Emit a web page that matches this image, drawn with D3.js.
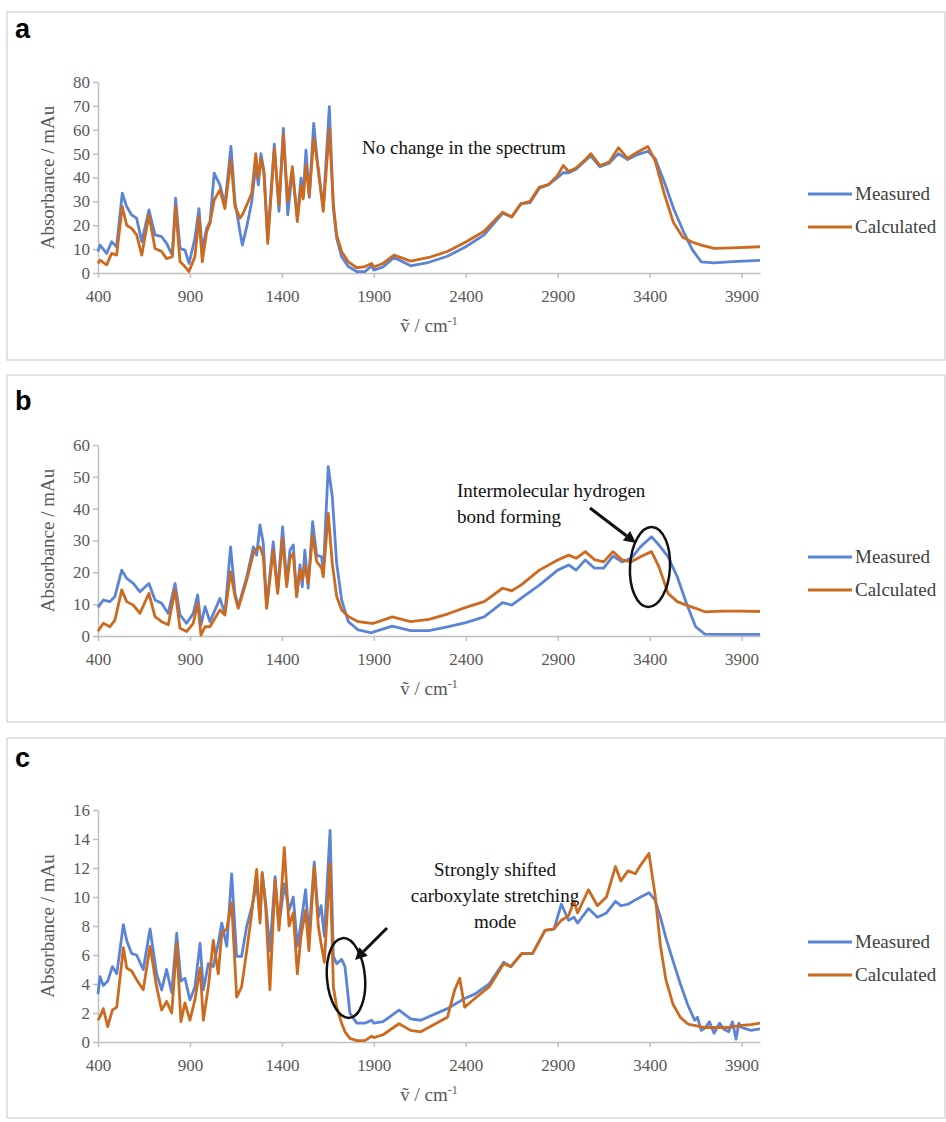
<!DOCTYPE html>
<html>
<head>
<meta charset="utf-8">
<script src="https://cdn.jsdelivr.net/npm/d3@7"></script>
<style>
  body { margin: 0; background: #fff; }
  svg { display: block; }
</style>
</head>
<body>
<div id="chart"></div>
<script>
"use strict";

// wavenumber ticks shared by all three panels
const wnTicks = [400, 900, 1400, 1900, 2400, 2900, 3400, 3900];
const seriesNames = ["Measured", "Calculated"];

// panel a
const aWn = [400, 411, 447, 474, 501, 532, 556, 583, 610, 638, 677, 710, 746, 773, 804, 822, 846, 873, 895, 927,
  949, 967, 991, 1009, 1032, 1063, 1090, 1123, 1145, 1172, 1185, 1209, 1236, 1258, 1272, 1286, 1303, 1323, 1359, 1384,
  1408, 1432, 1457, 1484, 1504, 1516, 1531, 1549, 1573, 1598, 1625, 1658, 1680, 1698, 1725, 1761, 1807, 1853, 1888, 1900,
  1950, 2010, 2100, 2200, 2300, 2400, 2500, 2600, 2650, 2700, 2750, 2800, 2850, 2900, 2930, 2960, 3000, 3050, 3080, 3130,
  3180, 3230, 3280, 3330, 3390, 3430, 3480, 3530, 3580, 3630, 3680, 3750, 3850, 4000];
const aMeasured = [9, 11.7, 8.2, 13.1, 11, 33.4, 27.8, 24.3, 23, 13.1, 26.4, 16, 15.2, 12.4, 7.5, 31.3, 10.3, 9.6, 4, 14.5,
  27, 9.6, 18.7, 21.5, 41.8, 36.9, 28.5, 53, 29.9, 17.3, 11.7, 19.4, 29.9, 45.2, 36.9, 50, 42.5, 14.5, 54, 25.8,
  60.6, 24.4, 43.1, 23, 39.7, 32.3, 51.5, 31.7, 62.7, 42.5, 27, 69.7, 27, 14.5, 6.8, 2.7, 0.6, 0.6, 3, 1.2,
  2.5, 6.5, 3, 4.5, 7, 11, 16, 25, 23.5, 29, 29.5, 35.5, 37, 40, 42, 42, 43.5, 47, 49, 44.5,
  46, 50, 47.5, 49.5, 51, 48, 38, 27, 18, 10, 4.7, 4.2, 4.8, 5.3];
const aCalculated = [4, 5.4, 3.4, 8.2, 7.5, 27.8, 20, 18.7, 16, 7.5, 24.3, 10.3, 9, 6, 6.8, 27.8, 4.7, 2.7, 0.6, 6.8,
  23.6, 4.7, 17.3, 20.8, 30.6, 34.8, 27, 47.3, 27.8, 23, 24.3, 28.5, 33.4, 50, 39.7, 48, 41, 12.4, 52, 28.5,
  57.8, 29.9, 44.5, 21.5, 36.3, 31, 45.2, 32.3, 56.4, 43.8, 25.8, 60.6, 28.5, 15.9, 8.9, 4.7, 2.2, 2.7, 4, 2.5,
  4, 7.5, 5, 6.5, 9, 13, 17.5, 25.5, 23.5, 29, 30, 36, 37, 41, 45, 42.5, 44, 47.5, 50, 45,
  46.5, 52.5, 48, 50.5, 53, 47, 33, 21, 15, 13, 11.7, 10.3, 10.5, 11];

// panel b
const bWn = [400, 429, 465, 492, 529, 556, 592, 628, 677, 710, 746, 782, 819, 846, 882, 918, 942, 960, 982, 1009,
  1063, 1090, 1121, 1145, 1163, 1209, 1245, 1263, 1281, 1299, 1317, 1353, 1377, 1404, 1426, 1444, 1462, 1480, 1498, 1511,
  1525, 1543, 1567, 1589, 1616, 1625, 1652, 1674, 1698, 1725, 1761, 1815, 1888, 1900, 2000, 2100, 2200, 2300, 2400, 2500,
  2600, 2650, 2700, 2800, 2900, 2960, 3000, 3050, 3100, 3150, 3200, 3250, 3300, 3350, 3410, 3450, 3500, 3550, 3600, 3650,
  3700, 3800, 3900, 4000];
const bMeasured = [9, 11.3, 10.8, 12.4, 20.7, 18.1, 16.5, 13.9, 16.5, 11.3, 10.3, 7.1, 16.5, 6.6, 4, 7.1, 12.9, 3.5, 9.2, 4.5,
  11.8, 7.1, 28, 13.4, 9.2, 18.6, 28, 25.4, 34.9, 29.1, 9.2, 29.6, 13.9, 34.3, 16.5, 27, 28.6, 12.4, 22.3, 15.5,
  27, 15, 35.9, 25.4, 24.9, 19.7, 53.2, 43.8, 22.8, 11.3, 4.5, 1.9, 1, 1.3, 3.1, 1.7, 1.7, 2.9, 4.2, 6,
  10.5, 9.7, 11.8, 16, 20.7, 22.3, 20.7, 23.9, 21.3, 21.3, 25.1, 23.3, 24.4, 28, 31.2, 28.6, 24.9, 18.6, 10.3, 2.9,
  0.6, 0.5, 0.5, 0.5];
const bCalculated = [1.5, 4, 2.9, 5, 14.5, 10.8, 9.7, 7.1, 13.4, 6.1, 4.5, 3.5, 14.5, 2.4, 1.4, 4, 10.3, 0.3, 2.9, 2.9,
  8.2, 6.6, 20.2, 12.4, 8.7, 17.6, 26, 27.5, 28, 24.9, 8.7, 27, 13.4, 30.7, 15.5, 24.4, 26, 12.4, 20.7, 17.6,
  22.3, 16.5, 31.7, 23.4, 21.3, 18.6, 38.5, 22.8, 12.4, 8.2, 6.1, 4.5, 4, 4, 6, 4.5, 5.2, 6.9, 9, 10.8,
  15, 14.2, 16, 20.7, 23.9, 25.4, 24.4, 26.5, 24, 23.3, 26.5, 23.9, 23.3, 24.9, 26.5, 21.8, 13.4, 10.8, 9.7, 8.7,
  7.6, 7.8, 7.8, 7.7];

// panel c
const cWn = [400, 411, 429, 453, 478, 502, 538, 556, 583, 610, 646, 683, 719, 746, 773, 801, 828, 851, 873, 900,
  927, 955, 973, 1000, 1027, 1054, 1073, 1100, 1127, 1154, 1181, 1209, 1236, 1263, 1281, 1293, 1312, 1335, 1363, 1384,
  1413, 1439, 1462, 1484, 1504, 1529, 1547, 1576, 1598, 1613, 1631, 1662, 1680, 1698, 1725, 1743, 1770, 1807, 1852, 1888,
  1900, 1950, 2037, 2100, 2155, 2300, 2340, 2367, 2394, 2449, 2527, 2606, 2645, 2704, 2763, 2831, 2880, 2920, 2959, 2988,
  3008, 3067, 3116, 3165, 3214, 3243, 3282, 3322, 3351, 3396, 3429, 3459, 3488, 3527, 3567, 3606, 3620, 3645, 3660, 3680,
  3704, 3725, 3750, 3780, 3802, 3830, 3850, 3870, 3885, 3900, 3950, 4000];
const cMeasured = [3.3, 4.5, 3.9, 4.2, 5.2, 4.7, 8.1, 7, 6.1, 6, 5, 7.8, 4.7, 3.6, 5, 3.4, 7.5, 4.2, 4.4, 2.9,
  3.8, 6.8, 3.6, 5.4, 5.2, 6.8, 8.2, 6.6, 11.6, 5.9, 5.9, 8, 9.3, 10.9, 8.5, 11.6, 9.6, 6.3, 11.4, 8,
  10.9, 9.1, 10, 6.6, 8.2, 10.5, 7.3, 12.4, 8.6, 9.4, 7.3, 14.6, 5.9, 5.4, 5.7, 5.2, 2, 1.3, 1.3, 1.5,
  1.3, 1.4, 2.2, 1.6, 1.5, 2.3, 2.6, 2.8, 3, 3.3, 4, 5.5, 5.2, 6.1, 6.1, 7.7, 7.8, 9.5, 8.4, 8.6,
  8.2, 9.2, 8.6, 8.9, 9.7, 9.4, 9.5, 9.8, 10, 10.3, 9.8, 8.6, 7.2, 5.6, 4, 2.6, 2.2, 1.5, 1.7, 0.8,
  1, 1.4, 0.6, 1.3, 0.9, 0.7, 1.4, 0.2, 1.3, 1, 0.8, 0.9];
const cCalculated = [1.5, 1.75, 2.3, 1.06, 2.2, 2.4, 6.5, 5.1, 4.9, 4.3, 3.6, 6.6, 3.8, 2.2, 2.8, 2, 6.8, 1.4, 2.7, 1.5,
  2.9, 5.1, 1.5, 3.8, 7, 4.7, 7.5, 7.8, 9.6, 3.1, 3.8, 6.3, 8.9, 11.9, 8.2, 11.7, 9.3, 3.6, 11.2, 7.7,
  13.4, 8, 8.9, 4.7, 7.3, 9.1, 6.3, 12.1, 8, 6.8, 5.5, 12.3, 3.8, 2.4, 1.3, 0.7, 0.25, 0.1, 0.1, 0.4,
  0.3, 0.5, 1.26, 0.8, 0.7, 1.7, 3.6, 4.4, 2.4, 3, 3.8, 5.4, 5.2, 6.1, 6.1, 7.7, 7.8, 8.4, 8.7, 9.7,
  8.9, 10.5, 9.4, 10, 12.1, 11.1, 11.8, 11.6, 12.2, 13, 10.2, 6.6, 4.3, 2.6, 1.7, 1.26, 1.2, 1.15, 1.1, 1.05,
  1, 1, 1, 1, 1, 1, 1.05, 1.1, 1.1, 1.15, 1.2, 1.3];

const aYTicks = [0, 10, 20, 30, 40, 50, 60, 70, 80];
const bYTicks = [0, 10, 20, 30, 40, 50, 60];
const cYTicks = [0, 2, 4, 6, 8, 10, 12, 14, 16];

const colors = { Measured: "#5b84d6", Calculated: "#cc6a1f" };
const serif = '"Liberation Serif", "Times New Roman", serif';

const W = 946, H = 1122;
const svg = d3.select("#chart").append("svg").attr("width", W).attr("height", H);

// layout of the three panels
const panels = [
  { label: "a", box: [7, 12, 938, 348], labelY: 38, top: 82, bottom: 273, ticks: aYTicks,
    wn: aWn, series: [aMeasured, aCalculated], legendY: 194 },
  { label: "b", box: [7, 375, 938, 347], labelY: 410, top: 445, bottom: 636, ticks: bYTicks,
    wn: bWn, series: [bMeasured, bCalculated], legendY: 557 },
  { label: "c", box: [7, 738, 938, 380], labelY: 767, top: 810, bottom: 1042, ticks: cYTicks,
    wn: cWn, series: [cMeasured, cCalculated], legendY: 942 }
];

const x = d3.scaleLinear().domain([400, 4000]).range([98, 760]);

panels.forEach(p => {
  const g = svg.append("g");
  const y = d3.scaleLinear().domain([0, d3.max(p.ticks)]).range([p.bottom, p.top]);

  g.append("rect")
    .attr("x", p.box[0]).attr("y", p.box[1])
    .attr("width", p.box[2]).attr("height", p.box[3])
    .attr("fill", "none").attr("stroke", "#d9d9d9").attr("stroke-width", 1.5);

  g.append("text")
    .attr("x", 15).attr("y", p.labelY)
    .style("font-family", "'Liberation Sans', Arial, sans-serif")
    .style("font-weight", "bold").style("font-size", "27px")
    .text(p.label);

  // axes
  const xAxis = g.append("g")
    .attr("transform", "translate(0," + p.bottom + ")")
    .call(d3.axisBottom(x).tickValues(wnTicks).tickFormat(d3.format("d"))
      .tickSize(5).tickSizeOuter(0).tickPadding(12));
  const yAxis = g.append("g")
    .attr("transform", "translate(98,0)")
    .call(d3.axisLeft(y).tickValues(p.ticks).tickFormat(d3.format("d"))
      .tickSize(5).tickSizeOuter(0).tickPadding(3));
  [xAxis, yAxis].forEach(a => {
    a.attr("font-family", serif).attr("font-size", 17);
    a.select(".domain").attr("stroke", "#bfbfbf").attr("stroke-width", 1.5);
    a.selectAll(".tick line").attr("stroke", "#bfbfbf").attr("stroke-width", 1.5);
    a.selectAll(".tick text").attr("fill", "#595959");
  });

  // axis titles
  const xt = g.append("text")
    .attr("x", 429).attr("y", p.bottom + 59)
    .attr("text-anchor", "middle")
    .attr("font-family", serif).attr("font-size", 19).attr("fill", "#595959")
    .text("ṽ / cm");
  xt.append("tspan").attr("dy", -7).attr("font-size", 12).text("-1");

  g.append("text")
    .attr("transform", "translate(54," + ((p.top + p.bottom) / 2) + ") rotate(-90)")
    .attr("text-anchor", "middle")
    .attr("font-family", serif).attr("font-size", 19).attr("fill", "#595959")
    .text("Absorbance / mAu");

  // spectra
  const line = d3.line()
    .x((d, i) => x(p.wn[i]))
    .y(d => y(d));

  p.series.forEach((s, k) => {
    g.append("path")
      .datum(s)
      .attr("d", line)
      .attr("fill", "none")
      .attr("stroke", colors[seriesNames[k]])
      .attr("stroke-width", 2.8)
      .attr("stroke-linejoin", "round");
  });

  // legend
  const leg = g.selectAll("g.legend")
    .data(seriesNames)
    .enter()
    .append("g")
    .attr("transform", (d, i) => "translate(0," + (p.legendY + i * 33) + ")");
  leg.append("line")
    .attr("x1", 808).attr("x2", 852)
    .attr("stroke", d => colors[d]).attr("stroke-width", 3);
  leg.append("text")
    .attr("x", 855).attr("dy", "0.33em")
    .attr("font-family", serif).attr("font-size", 19).attr("fill", "#404040")
    .text(d => d);
});

// annotations
function note(lines, xx, y0, anchor) {
  const t = svg.append("text")
    .attr("text-anchor", anchor)
    .attr("font-family", serif).attr("font-size", 19).attr("fill", "#111");
  lines.forEach((s, i) => t.append("tspan").attr("x", xx).attr("y", y0 + i * 26).text(s));
}

function arrow(x1, y1, x2, y2) {
  const ang = Math.atan2(y2 - y1, x2 - x1);
  const len = 12, w = 6;
  const bx = x2 - len * Math.cos(ang), by = y2 - len * Math.sin(ang);
  svg.append("line")
    .attr("x1", x1).attr("y1", y1).attr("x2", bx).attr("y2", by)
    .attr("stroke", "#111").attr("stroke-width", 3);
  svg.append("path")
    .attr("d", "M" + x2 + "," + y2 +
      "L" + (bx + w * Math.sin(ang)) + "," + (by - w * Math.cos(ang)) +
      "L" + (bx - w * Math.sin(ang)) + "," + (by + w * Math.cos(ang)) + "Z")
    .attr("fill", "#111");
}

function ring(cx, cy, rx, ry, rot) {
  svg.append("ellipse")
    .attr("cx", cx).attr("cy", cy).attr("rx", rx).attr("ry", ry)
    .attr("transform", "rotate(" + rot + "," + cx + "," + cy + ")")
    .attr("fill", "none").attr("stroke", "#111").attr("stroke-width", 2.5);
}

note(["No change in the spectrum"], 362, 154, "start");

note(["Intermolecular hydrogen", "bond forming"], 457, 497, "start");
ring(650, 567, 20, 40, 3);
arrow(590, 508, 636, 543);

note(["Strongly shifted", "carboxylate stretching", "mode"], 495, 876, "middle");
ring(346, 978, 19, 40, -5);
arrow(387, 928, 355, 960);
</script>
</body>
</html>
